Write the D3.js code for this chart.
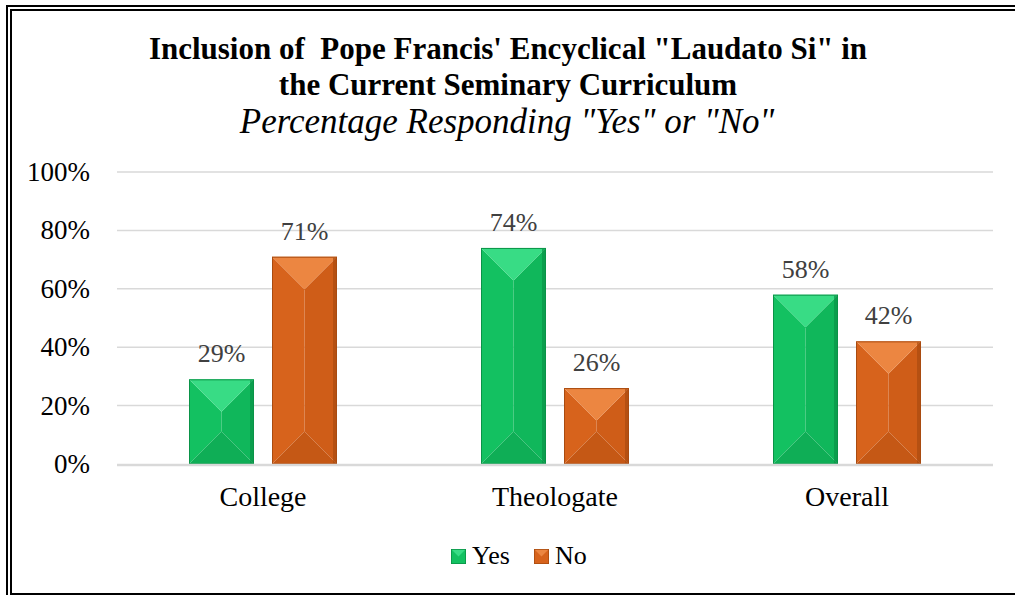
<!DOCTYPE html>
<html lang="en">
<head>
    <meta charset="UTF-8">
    <title>Inclusion of Laudato Si</title>
    <script src="https://d3js.org/d3.v7.min.js"></script>
    <style>
        body { margin: 0; background: #fff; overflow: hidden; }
        svg { display: block; }
        text { font-family: 'Liberation Serif', 'Times New Roman', serif; white-space: pre; }
    </style>
</head>
<body>
<div id="chart"></div>
<script>
    // data
    const categories = ['College', 'Theologate', 'Overall'];
    const seriesNames = ['Yes', 'No'];
    const yesValues = [29, 74, 58];
    const noValues = [71, 26, 42];
    const yTicks = [0, 20, 40, 60, 80, 100];

    const width = 1015, height = 595;
    const plot = { left: 117, right: 993, top: 172, bottom: 464 };

    const colors = {
        Yes: { main: '#13c161', top: '#38dc85', right: '#10b75b', bottom: '#0fae56', edge: '#0a9347' },
        No:  { main: '#d7631c', top: '#ec8641', right: '#cf5d18', bottom: '#c55815', edge: '#a94b10' }
    };

    const svg = d3.select('#chart').append('svg')
        .attr('width', width)
        .attr('height', height);

    // double frame: only left, top and bottom fall inside the picture
    svg.append('path').attr('d', 'M1015,6 H7 V600')
        .attr('fill', 'none').attr('stroke', '#000').attr('stroke-width', 2);
    svg.append('path').attr('d', 'M1015,10 H11 V594 H1015')
        .attr('fill', 'none').attr('stroke', '#000').attr('stroke-width', 2);

    // titles
    svg.append('text').attr('x', 508).attr('y', 59).attr('text-anchor', 'middle')
        .style('font-size', '31px').style('font-weight', 'bold')
        .text('Inclusion of  Pope Francis\' Encyclical "Laudato Si" in');
    svg.append('text').attr('x', 508).attr('y', 95).attr('text-anchor', 'middle')
        .style('font-size', '31px').style('font-weight', 'bold')
        .text('the Current Seminary Curriculum');
    svg.append('text').attr('x', 507).attr('y', 133).attr('text-anchor', 'middle')
        .style('font-size', '35px').style('font-style', 'italic')
        .text('Percentage Responding "Yes" or "No"');

    const x = d3.scaleBand().domain(categories).range([plot.left, plot.right]);
    const step = x.bandwidth();
    const xInner = d3.scaleBand().domain(seriesNames)
        .range([step / 2 - 74, step / 2 + 74]).paddingInner(18 / 83);
    const y = d3.scaleLinear().domain([0, 100]).range([plot.bottom, plot.top]);

    // gridlines
    svg.append('g').selectAll('line').data(yTicks.slice(1)).join('line')
        .attr('x1', plot.left).attr('x2', plot.right)
        .attr('y1', d => y(d)).attr('y2', d => y(d))
        .attr('stroke', '#d9d9d9').attr('stroke-width', 1.5);

    // y tick labels
    svg.append('g').selectAll('text').data(yTicks).join('text')
        .attr('x', 90).attr('y', d => y(d) + 9)
        .attr('text-anchor', 'end')
        .style('font-size', '27px').attr('fill', '#000')
        .text(d => d + '%');

    const rows = [];
    categories.forEach((c, i) => {
        rows.push({ cat: c, s: 'Yes', v: yesValues[i] });
        rows.push({ cat: c, s: 'No', v: noValues[i] });
    });

    // beveled bars
    const bars = svg.append('g').selectAll('g').data(rows).join('g');
    bars.each(function (d) {
        const g = d3.select(this);
        const bx = x(d.cat) + xInner(d.s);
        const bw = xInner.bandwidth();
        const by = y(d.v);
        const bh = y(0) - by;
        const dep = Math.min(bw / 2, bh / 2);
        const cx = bx + bw / 2;
        const c = colors[d.s];
        const poly = pts => pts.map(p => p.join(',')).join(' ');
        g.append('polygon').attr('points', poly([[bx, by], [cx, by + dep], [cx, by + bh - dep], [bx, by + bh]]))
            .attr('fill', c.main);
        g.append('polygon').attr('points', poly([[bx + bw, by], [cx, by + dep], [cx, by + bh - dep], [bx + bw, by + bh]]))
            .attr('fill', c.right);
        g.append('polygon').attr('points', poly([[bx, by], [bx + bw, by], [cx, by + dep]]))
            .attr('fill', c.top);
        g.append('polygon').attr('points', poly([[bx, by + bh], [bx + bw, by + bh], [cx, by + bh - dep]]))
            .attr('fill', c.bottom);
        g.append('rect').attr('x', bx + bw - 4).attr('y', by + 1).attr('width', 3.5).attr('height', bh - 1)
            .attr('fill', c.edge).attr('opacity', 0.7);
        g.append('rect').attr('x', bx + 0.5).attr('y', by + 0.5).attr('width', bw - 1).attr('height', bh - 0.5)
            .attr('fill', 'none').attr('stroke', c.edge).attr('stroke-width', 1);
        g.append('text').attr('x', cx).attr('y', by - 17)
            .attr('text-anchor', 'middle')
            .style('font-size', '26px').attr('fill', '#404040')
            .text(d.v + '%');
    });

    // baseline
    svg.append('line').attr('x1', plot.left).attr('x2', plot.right)
        .attr('y1', y(0) + 1).attr('y2', y(0) + 1)
        .attr('stroke', '#d9d9d9').attr('stroke-width', 2.5);

    // category labels
    svg.append('g').selectAll('text').data(categories).join('text')
        .attr('x', d => x(d) + step / 2).attr('y', 506)
        .attr('text-anchor', 'middle')
        .style('font-size', '28px').attr('fill', '#000')
        .text(d => d);

    // legend
    const legendX = { Yes: 451, No: 534 };
    const legend = svg.append('g').selectAll('g').data(seriesNames).join('g')
        .attr('transform', d => `translate(${legendX[d]},549)`);
    legend.each(function (d) {
        const g = d3.select(this);
        const c = colors[d];
        const s = 15, h = s / 2;
        g.append('rect').attr('width', s).attr('height', s).attr('fill', c.main);
        g.append('polygon').attr('points', `0,0 ${s},0 ${h},${h}`).attr('fill', c.top);
        g.append('rect').attr('x', 0.4).attr('y', 0.4).attr('width', s - 0.8).attr('height', s - 0.8).attr('fill', 'none')
            .attr('stroke', c.edge).attr('stroke-width', 0.8);
        g.append('text').attr('x', 21).attr('y', 15)
            .style('font-size', '26px').attr('fill', '#000')
            .text(d);
    });
</script>
</body>
</html>
